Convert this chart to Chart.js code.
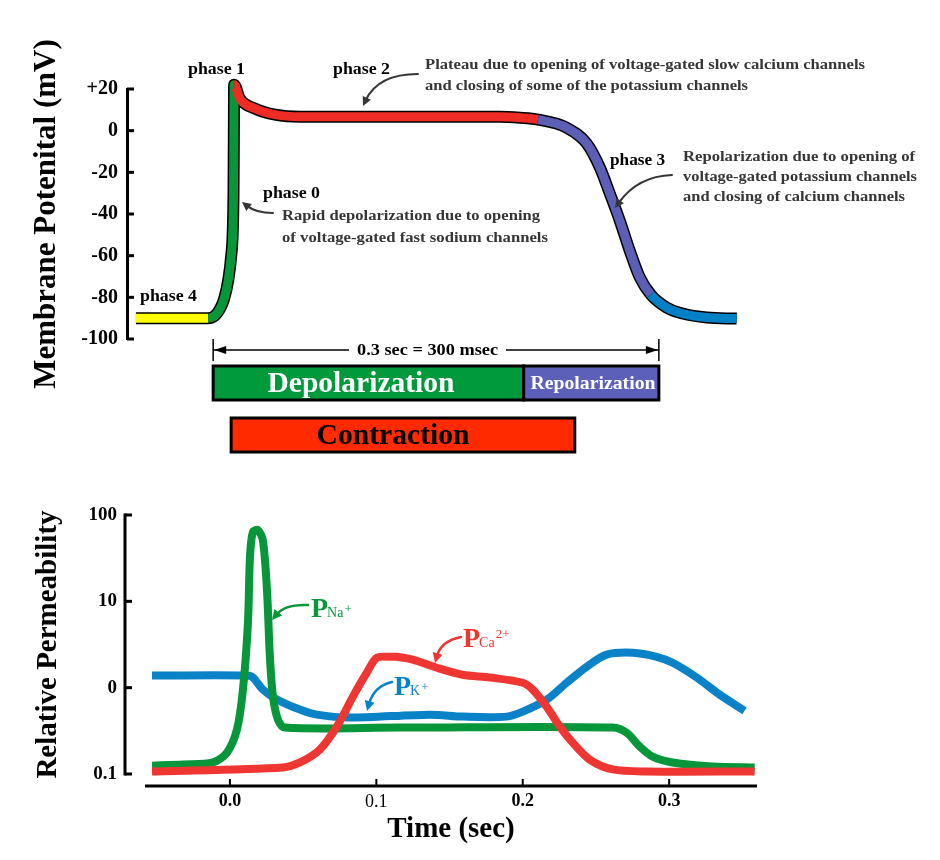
<!DOCTYPE html>
<html>
<head>
<meta charset="utf-8">
<script src="https://cdn.jsdelivr.net/npm/chart.js@4.4.1/dist/chart.umd.min.js"></script>
<style>
  html, body { margin: 0; padding: 0; background: #fff; }
  #wrap { position: relative; width: 940px; height: 860px; overflow: hidden; }
  canvas { position: absolute; left: 0; }
</style>
</head>
<body>
<div id="wrap">
  <canvas id="topChart" width="940" height="460" style="top:0"></canvas>
  <canvas id="botChart" width="940" height="400" style="top:460px"></canvas>
</div>
<script>
// ---------------- DATA ----------------
// Action potential (time in seconds, membrane potential in mV)
const phase4Time = [-0.052, -0.0034];
const phase4Mv   = [-90, -90];
const phase0Time = [-0.0034, 0.0013, 0.0047, 0.0074, 0.0101, 0.0121, 0.0132, 0.0137, 0.0139, 0.0140, 0.0141];
const phase0Mv   = [-90, -88.7, -85.4, -80.6, -71.9, -60.4, -48, -28.8, -4.8, 12, 22];
const plateauTime = [0.0141, 0.018, 0.0282, 0.0417, 0.0585, 0.1258, 0.193, 0.2065, 0.2186];
const plateauMv   = [22, 15.3, 10.6, 7.7, 6.7, 6.7, 6.7, 6.2, 5.3];
const phase3Time = [0.2186, 0.238, 0.2515, 0.2603, 0.267, 0.2737, 0.2804, 0.2872, 0.2946];
const phase3Mv   = [5.3, 1.4, -6.2, -17.7, -30.2, -43.2, -57.6, -70.5, -78.7];
const restTime = [0.2946, 0.3053, 0.3161, 0.3322, 0.3524];
const restMv   = [-78.7, -84.9, -87.8, -89.7, -90.2];

const mvTickValues = [-100, -80, -60, -40, -20, 0, 20];
const mvTickLabels = ['-100', '-80', '-60', '-40', '-20', '0', '+20'];

// Bars under the action potential (seconds)
const barLabels = ['Depolarization', 'Repolarization', 'Contraction'];
const barStart  = [0.0, 0.209, 0.0121];
const barEnd    = [0.209, 0.3, 0.2434];
const spanStart = 0.0;
const spanEnd   = 0.3;
const spanLabel = '0.3 sec = 300 msec';

// Relative permeability (time in seconds)
const naTime = [-0.0532, -0.0321, -0.0116, -0.002, 0.0048, 0.0089, 0.0123, 0.0137, 0.0157, 0.0191, 0.0225, 0.0253, 0.0273, 0.0294, 0.0328, 0.0375, 0.116, 0.2614, 0.271, 0.2799, 0.2887, 0.3024, 0.3297, 0.3584];
const naPerm = [0.125, 0.129, 0.136, 0.177, 0.327, 0.95, 5.6, 32.7, 63.6, 67, 51, 13.6, 2.28, 0.79, 0.427, 0.345, 0.345, 0.345, 0.30, 0.208, 0.159, 0.136, 0.122, 0.119];
const caTime = [-0.0532, 0.0362, 0.0478, 0.0614, 0.073, 0.084, 0.0935, 0.1003, 0.1092, 0.114, 0.1249, 0.1413, 0.159, 0.1775, 0.2, 0.2068, 0.2164, 0.2253, 0.2341, 0.2457, 0.2614, 0.2846, 0.3584];
const caPerm = [0.107, 0.119, 0.136, 0.192, 0.354, 0.787, 1.49, 2.22, 2.28, 2.28, 2.11, 1.70, 1.41, 1.31, 1.14, 0.95, 0.60, 0.354, 0.231, 0.147, 0.113, 0.107, 0.107];
const kTime = [-0.0532, 0.0116, 0.0157, 0.0225, 0.0321, 0.0478, 0.0594, 0.0819, 0.1365, 0.159, 0.189, 0.2, 0.2164, 0.23, 0.2437, 0.2573, 0.2751, 0.2915, 0.3024, 0.3188, 0.3345, 0.3515];
const kPerm = [1.38, 1.38, 1.31, 0.95, 0.73, 0.557, 0.487, 0.45, 0.487, 0.462, 0.462, 0.528, 0.727, 1.14, 1.75, 2.41, 2.54, 2.28, 1.94, 1.31, 0.83, 0.54];

const permTickValues = [0.1, 1, 10, 100];
const permTickLabels = ['0.1', '0', '10', '100'];
const timeTickValues = [0.0, 0.1, 0.2, 0.3];
const timeTickLabels = ['0.0', '0.1', '0.2', '0.3'];

// ---------------- STYLE ----------------
const SERIF = '"Liberation Serif", "Times New Roman", serif';
const TXT = '#363636';
const C_YELLOW = '#ffff00', C_GREEN = '#07963a', C_RED = '#ee2b24', C_PURPLE = '#5b5fb6', C_BLUE = '#0381c6';
const B_GREEN = '#009a3c', B_PURPLE = '#5c60b8', B_RED = '#ff2a00';
const L_GREEN = '#08963a', L_RED = '#f03633', L_BLUE = '#0a82c8';

// build action potential points & segment colours from the phase arrays
const apSegments = [
  [phase4Time, phase4Mv, C_YELLOW],
  [phase0Time, phase0Mv, C_GREEN],
  [plateauTime, plateauMv, C_RED],
  [phase3Time, phase3Mv, C_PURPLE],
  [restTime, restMv, C_BLUE]
];
const apPoints = [];
const apSegColor = [];
apSegments.forEach(([ts, vs, col], si) => {
  ts.forEach((t, i) => {
    if (si > 0 && i === 0) return; // shared join point
    apPoints.push({ x: t, y: vs[i] });
    apSegColor.push(col);
  });
});
function segColor(ctx) { return apSegColor[ctx.p1DataIndex]; }
function toPts(ts, vs) { return ts.map((t, i) => ({ x: t, y: vs[i] })); }

// ---------------- HELPERS ----------------
function arrowHead(ctx, x1, y1, fromX, fromY, len, half) {
  const a = Math.atan2(y1 - fromY, x1 - fromX);
  ctx.beginPath();
  ctx.moveTo(x1, y1);
  ctx.lineTo(x1 - len * Math.cos(a) + half * Math.sin(a), y1 - len * Math.sin(a) - half * Math.cos(a));
  ctx.lineTo(x1 - len * Math.cos(a) - half * Math.sin(a), y1 - len * Math.sin(a) + half * Math.cos(a));
  ctx.closePath();
  ctx.fill();
}
function curvedArrow(ctx, x0, y0, cx, cy, x1, y1, color, lw, len, half) {
  ctx.save();
  ctx.strokeStyle = color; ctx.fillStyle = color; ctx.lineWidth = lw; ctx.lineCap = 'round';
  const a = Math.atan2(y1 - cy, x1 - cx);
  const ex = x1 - (len * 0.7) * Math.cos(a), ey = y1 - (len * 0.7) * Math.sin(a);
  ctx.beginPath(); ctx.moveTo(x0, y0); ctx.quadraticCurveTo(cx, cy, ex, ey); ctx.stroke();
  arrowHead(ctx, x1, y1, cx, cy, len, half);
  ctx.restore();
}
// text drawn to a given width (the reference lettering is slightly wide)
function text(ctx, s, x, y, font, color, align, width, baseline) {
  ctx.save();
  ctx.font = font; ctx.fillStyle = color; ctx.textAlign = align || 'left';
  ctx.textBaseline = baseline || 'alphabetic';
  const w = ctx.measureText(s).width;
  const sx = width ? width / w : 1;
  ctx.translate(x, y); ctx.scale(sx, 1);
  ctx.fillText(s, 0, 0);
  ctx.restore();
}
function inwardYTicks(ctx, scale, x, len, values) {
  ctx.save(); ctx.strokeStyle = '#000'; ctx.lineWidth = 3; ctx.lineCap = 'butt';
  values.forEach(v => {
    const y = scale.getPixelForValue(v);
    ctx.beginPath(); ctx.moveTo(x, y); ctx.lineTo(x + len, y); ctx.stroke();
  });
  ctx.restore();
}

// ---------------- TOP CHART PLUGIN ----------------
const topDecor = {
  id: 'topDecor',
  afterDraw(chart) {
    const ctx = chart.ctx;
    const xs = chart.scales.x, ys = chart.scales.y;
    const ca = chart.chartArea;
    inwardYTicks(ctx, ys, ca.left, 7, mvTickValues);

    const PH = 'bold 16px ' + SERIF;
    const AN = 'bold 15px ' + SERIF;
    text(ctx, 'phase 1', 188, 74, PH, '#000', 'left', 57);
    text(ctx, 'phase 2', 333, 74, PH, '#000', 'left', 57);
    text(ctx, 'phase 0', 263, 198, PH, '#000', 'left', 57);
    text(ctx, 'phase 3', 610, 165, PH, '#000', 'left', 55);
    text(ctx, 'phase 4', 140, 301, PH, '#000', 'left', 57);

    text(ctx, 'Plateau due to opening of voltage-gated slow calcium channels', 425, 69, AN, TXT, 'left', 440);
    text(ctx, 'and closing of some of the potassium channels', 425, 90, AN, TXT, 'left', 323);
    text(ctx, 'Rapid depolarization due to opening', 282, 220, AN, TXT, 'left', 258);
    text(ctx, 'of voltage-gated fast sodium channels', 282, 242, AN, TXT, 'left', 266);
    text(ctx, 'Repolarization due to opening of', 683, 161, AN, TXT, 'left', 232);
    text(ctx, 'voltage-gated potassium channels', 683, 181, AN, TXT, 'left', 234);
    text(ctx, 'and closing of calcium channels', 683, 201, AN, TXT, 'left', 222);

    curvedArrow(ctx, 418, 74, 378, 74, 363, 106, TXT, 2, 9, 4.5);
    curvedArrow(ctx, 273, 213, 256, 213, 242, 202, TXT, 2, 9, 4.5);
    curvedArrow(ctx, 672, 175, 638, 176, 615, 208, TXT, 2, 9, 4.5);

    // span dimension line
    const sx0 = xs.getPixelForValue(spanStart), sx1 = xs.getPixelForValue(spanEnd);
    const sy = 350;
    ctx.save();
    ctx.strokeStyle = '#000'; ctx.fillStyle = '#000'; ctx.lineWidth = 1.5;
    ctx.beginPath(); ctx.moveTo(sx0, sy); ctx.lineTo(sx1, sy); ctx.stroke();
    ctx.beginPath(); ctx.moveTo(sx0, 339); ctx.lineTo(sx0, 361); ctx.moveTo(sx1, 339); ctx.lineTo(sx1, 361); ctx.stroke();
    arrowHead(ctx, sx0 + 1, sy, sx0 + 20, sy, 12, 4);
    arrowHead(ctx, sx1 - 1, sy, sx1 - 20, sy, 12, 4);
    ctx.fillStyle = '#fff'; ctx.fillRect(349, sy - 9, 157, 18);
    ctx.restore();
    text(ctx, spanLabel, 357, sy + 5, 'bold 16px ' + SERIF, '#000', 'left', 141);

    // bars
    const bars = [
      { i: 0, y0: 366, y1: 400, fill: B_GREEN, tc: '#fff', font: 'bold 30px ' + SERIF, cx: 361, w: 187 },
      { i: 1, y0: 366, y1: 400, fill: B_PURPLE, tc: '#fff', font: 'bold 19px ' + SERIF, cx: 593, w: 125 },
      { i: 2, y0: 418, y1: 452, fill: B_RED, tc: '#000', font: 'bold 30px ' + SERIF, cx: 393, w: 153 }
    ];
    bars.forEach(b => {
      const x0 = xs.getPixelForValue(barStart[b.i]), x1 = xs.getPixelForValue(barEnd[b.i]);
      ctx.save();
      ctx.fillStyle = b.fill; ctx.fillRect(x0, b.y0, x1 - x0, b.y1 - b.y0);
      ctx.strokeStyle = '#000'; ctx.lineWidth = 3;
      ctx.strokeRect(x0, b.y0, x1 - x0, b.y1 - b.y0);
      ctx.restore();
      text(ctx, barLabels[b.i], b.cx, (b.y0 + b.y1) / 2 + 1, b.font, b.tc, 'center', b.w, 'middle');
    });
  }
};

// ---------------- BOTTOM CHART PLUGIN ----------------
function pLabel(ctx, x, base, sub, sup, color, raise) {
  ctx.save();
  ctx.fillStyle = color; ctx.textAlign = 'left'; ctx.textBaseline = 'alphabetic';
  ctx.font = 'bold 28px ' + SERIF; ctx.fillText('P', x, base);
  const w = ctx.measureText('P').width;
  ctx.font = '14px ' + SERIF; ctx.fillText(sub, x + w - 1, base);
  const w2 = ctx.measureText(sub).width;
  ctx.font = '13px ' + SERIF; ctx.fillText(sup, x + w + w2, base - raise);
  ctx.restore();
}
const botDecor = {
  id: 'botDecor',
  afterDraw(chart) {
    const ctx = chart.ctx;
    const xs = chart.scales.x, ys = chart.scales.y;
    const ca = chart.chartArea;
    const ax = 125;
    ctx.save(); ctx.strokeStyle = '#000'; ctx.lineWidth = 3;
    ctx.beginPath(); ctx.moveTo(ax, ys.getPixelForValue(100) - 1.5); ctx.lineTo(ax, ys.getPixelForValue(0.1) + 1.5); ctx.stroke();
    const ay = ca.bottom + 12;
    ctx.beginPath(); ctx.moveTo(ca.left, ay); ctx.lineTo(ca.right, ay); ctx.stroke();
    ctx.lineWidth = 2;
    timeTickValues.forEach(v => {
      const x = xs.getPixelForValue(v);
      ctx.beginPath(); ctx.moveTo(x, ay); ctx.lineTo(x, ay - 7); ctx.stroke();
    });
    ctx.restore();
    inwardYTicks(ctx, ys, ax, 7, permTickValues);

    pLabel(ctx, 311, 157, 'Na', '+', L_GREEN, 4);
    pLabel(ctx, 463, 187, 'Ca', '2+', L_RED, 9);
    pLabel(ctx, 394, 235, 'K', '+', L_BLUE, 4);
    curvedArrow(ctx, 308, 145, 285, 144, 272, 160, L_GREEN, 2.5, 10, 5);
    curvedArrow(ctx, 461, 177, 441, 181, 435, 203, L_RED, 2.5, 10, 5);
    curvedArrow(ctx, 392, 222, 374, 226, 367, 251, L_BLUE, 2.5, 10, 5);
  }
};

// ---------------- CHARTS ----------------
Chart.defaults.font.family = SERIF;

new Chart(document.getElementById('topChart'), {
  type: 'line',
  data: {
    datasets: [
      { data: apPoints, borderWidth: 9, borderColor: C_RED, segment: { borderColor: segColor }, order: 1, clip: false },
      { data: apPoints, borderWidth: 12, borderColor: '#000', order: 2, clip: false }
    ]
  },
  options: {
    responsive: false, animation: false, devicePixelRatio: 1,
    layout: { padding: { left: 0, top: 89, right: 192, bottom: 121 } },
    plugins: { legend: { display: false }, tooltip: { enabled: false } },
    elements: { point: { radius: 0 }, line: { cubicInterpolationMode: 'monotone', borderCapStyle: 'butt', borderJoinStyle: 'round' } },
    scales: {
      x: { type: 'linear', min: -0.058, max: 0.36, display: false },
      y: {
        type: 'linear', min: -100, max: 20,
        afterBuildTicks: s => { s.ticks = mvTickValues.map(v => ({ value: v })); },
        afterFit: s => { s.width = 127; },
        ticks: { callback: (v) => mvTickLabels[mvTickValues.indexOf(v)], font: { family: SERIF, size: 20, weight: 'bold' }, color: '#000', padding: 9 },
        grid: { display: false, drawTicks: false },
        border: { display: true, color: '#000', width: 3 },
        title: { display: true, text: 'Membrane Potenital (mV)', font: { family: SERIF, size: 31, weight: 'bold' }, color: '#000', padding: { top: 28, bottom: 0 } }
      }
    }
  },
  plugins: [topDecor]
});

new Chart(document.getElementById('botChart'), {
  type: 'line',
  data: {
    datasets: [
      { label: 'PCa2+', data: toPts(caTime, caPerm), borderColor: L_RED, borderWidth: 8, clip: false },
      { label: 'PNa+', data: toPts(naTime, naPerm), borderColor: L_GREEN, borderWidth: 8, clip: false },
      { label: 'PK+', data: toPts(kTime, kPerm), borderColor: L_BLUE, borderWidth: 8, clip: false }
    ]
  },
  options: {
    responsive: false, animation: false, devicePixelRatio: 1,
    layout: { padding: { left: 0, top: 55, right: 183, bottom: 0 } },
    plugins: { legend: { display: false }, tooltip: { enabled: false } },
    elements: { point: { radius: 0 }, line: { tension: 0.3, borderCapStyle: 'butt', borderJoinStyle: 'round' } },
    scales: {
      x: {
        type: 'linear', min: -0.058, max: 0.36,
        afterBuildTicks: s => { s.ticks = timeTickValues.map(v => ({ value: v })); },
        afterFit: s => { s.height = 86; },
        ticks: {
          callback: (v, i) => timeTickLabels[i],
          font: c => ({ family: SERIF, size: 18, weight: (c.tick && Math.abs(c.tick.value - 0.1) < 1e-9) ? 'normal' : 'bold' }),
          color: '#000', padding: 17, maxRotation: 0
        },
        grid: { display: false, drawTicks: false },
        border: { display: false },
        title: { display: true, text: 'Time (sec)', font: { family: SERIF, size: 29, weight: 'bold' }, color: '#000', padding: { top: 0, bottom: 13 } }
      },
      y: {
        type: 'logarithmic', min: 0.1, max: 100,
        afterBuildTicks: s => { s.ticks = permTickValues.map(v => ({ value: v })); },
        afterFit: s => { s.width = 145; },
        ticks: { callback: (v, i) => permTickLabels[i], font: { family: SERIF, size: 19, weight: 'bold' }, color: '#000', padding: 28 },
        grid: { display: false, drawTicks: false },
        border: { display: false },
        title: { display: true, text: 'Relative Permeability', font: { family: SERIF, size: 29, weight: 'bold' }, color: '#000', padding: { top: 31, bottom: 0 } }
      }
    }
  },
  plugins: [botDecor]
});
</script>
</body>
</html>
